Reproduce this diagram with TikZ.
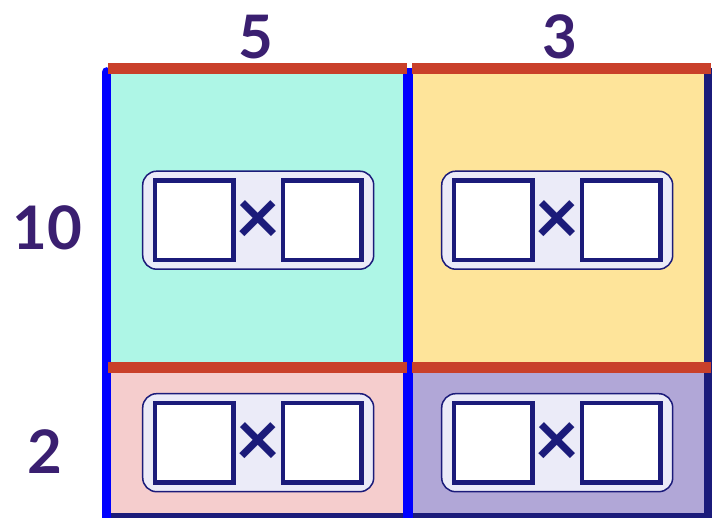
\documentclass[tikz,border=0pt]{standalone}
\usepackage{fontspec}
\setmainfont{Lato}
\usepackage{tikz}
\usetikzlibrary{positioning}
\definecolor{cellcyan}{HTML}{AEF6E6}
\definecolor{cellyellow}{HTML}{FEE49A}
\definecolor{cellpink}{HTML}{F5CDCD}
\definecolor{cellpurple}{HTML}{B1A7D7}
\definecolor{navy}{HTML}{1B1B7A}
\definecolor{boxfill}{HTML}{EBEBF8}
\definecolor{edgered}{HTML}{C9402A}
\definecolor{edgeblue}{HTML}{0000FF}
\definecolor{labelpurple}{HTML}{3A1F70}
\tikzset{
	cell/.style={rectangle, inner sep=0pt, minimum width=300pt, anchor=north west},
	multbox/.style={rectangle, rounded corners=14pt, draw=navy, line width=1.5pt,
		fill=boxfill, minimum width=231pt, minimum height=98pt, inner sep=0pt},
	numbox/.style={rectangle, draw=navy, line width=4.5pt, fill=white,
		minimum width=78.5pt, minimum height=79.5pt, inner sep=0pt},
	timessign/.style={text=navy, font=\fontsize{78}{78}\selectfont\bfseries, inner sep=0pt},
	sidelabel/.style={text=labelpurple, font=\fontsize{60}{60}\selectfont\bfseries, inner sep=0pt}
}
\begin{document}
\begin{tikzpicture}[x=1pt,y=-1pt]
	\useasboundingbox (0,0) rectangle (713,518);
	% the four parts of the area
	\node[cell, fill=cellcyan, minimum width=298pt, minimum height=299pt] (tl) at (106,68) {};
	\node[cell, fill=cellyellow, minimum height=299pt] (tr) at (404,68) {};
	\node[cell, fill=cellpink, minimum width=298pt, minimum height=146pt] (bl) at (106,367) {};
	\node[cell, fill=cellpurple, minimum height=146pt] (br) at (404,367) {};
	% boxes to fill in
	\foreach \c in {tl,tr,bl,br} {
		\node[multbox] (\c box) at ([xshift=3pt,yshift=-2.5pt]\c.center) {};
		\node[timessign] (\c times) at ([yshift=-2pt]\c box.center) {×};
		\node[numbox] (\c left) at ([xshift=-64pt]\c box.center) {};
		\node[numbox] (\c right) at ([xshift=64pt]\c box.center) {};
	}
	% dark border on the right and at the bottom
	\draw[navy, line width=8pt] ([xshift=4pt]tr.north east) -- ([xshift=4pt,yshift=-8pt]br.south east);
	\draw[navy, line width=5pt] ([yshift=-2.5pt]bl.south west) -- ([xshift=8pt,yshift=-2.5pt]br.south east);
	% blue edges for the lengths down
	\draw[edgeblue, line width=9.5pt, line cap=round] ([xshift=0.5pt,yshift=-4pt]tl.north west)
		-- ([xshift=0.5pt,yshift=-12pt]bl.south west);
	\draw[edgeblue, line width=9.5pt] ([xshift=3.5pt]tl.north east) -- ([xshift=3.5pt,yshift=-8pt]bl.south east);
	% red edges for the lengths across
	\draw[edgered, line width=11pt] ([xshift=2pt,yshift=-0.5pt]tl.north west) -- ([xshift=2.7pt,yshift=-0.5pt]tl.north east);
	\draw[edgered, line width=11pt] ([xshift=8pt,yshift=-0.5pt]tr.north west) -- ([xshift=7pt,yshift=-0.5pt]tr.north east);
	\draw[edgered, line width=11pt] ([xshift=2pt,yshift=-0.5pt]bl.north west) -- ([xshift=2.7pt,yshift=-0.5pt]bl.north east);
	\draw[edgered, line width=11pt] ([xshift=8pt,yshift=-0.5pt]br.north west) -- ([xshift=7pt,yshift=-0.5pt]br.north east);
	% lengths
	\node[sidelabel] (five) at (256,37) {5};
	\node[sidelabel] (three) at (560,37) {3};
	\node[sidelabel] (ten) at (47,228) {10};
	\node[sidelabel] (two) at (45,452) {2};
\end{tikzpicture}
\end{document}
